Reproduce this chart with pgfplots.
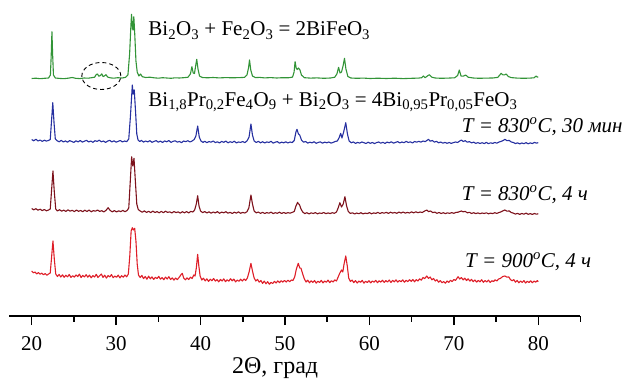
\documentclass[border=0pt]{standalone}
\usepackage{pgfplots}
\pgfplotsset{compat=1.18}
\usepackage{fontspec}
\setmainfont{Liberation Serif}
\definecolor{cgreen}{RGB}{50,148,55}
\definecolor{cblue}{RGB}{38,48,160}
\definecolor{cdred}{RGB}{125,18,28}
\definecolor{cred}{RGB}{222,30,40}
\newcommand{\fs}{\fontsize{21}{24}\selectfont}
\begin{document}
\begin{tikzpicture}
\useasboundingbox (-9.3pt,-65pt) rectangle (616.7pt,316pt);
\begin{axis}[
  at={(0pt,0pt)}, anchor=south west,
  scale only axis, width=571.17pt, height=316pt,
  xmin=17.35, xmax=85, ymin=0, ymax=316,
  axis x line*=bottom, axis y line=none,
  x axis line style={line width=1.8pt},
  xtick={20,30,...,80}, minor xtick={25,35,...,85},
  tick align=outside, major tick length=9pt, minor tick length=5.5pt,
  every tick/.style={black, line width=1.5pt},
  xticklabel style={font=\fs, inner sep=0pt, anchor=north, yshift=-11pt},
  /pgf/number format/assume math mode=true,
  clip=false,
  every axis plot/.append style={line width=1.1pt, line join=round},
]
% green
\addplot[cgreen] coordinates {(20,237.5)(20.5,237.8)(21,237.3)(21.5,237.7)(22,238)(22.22,241)(22.32,262)(22.4,284.3)(22.48,262)(22.58,241)(22.8,238)(23.3,237.6)(23.8,237.3)(24.3,237.8)(24.8,238.5)(25.2,237.7)(25.7,237.4)(26.2,238)(26.7,237.8)(27.1,238.3)(27.45,238.8)(27.65,241.5)(27.8,242)(27.95,239.8)(28.15,240.5)(28.3,242.2)(28.45,239.5)(28.6,240)(28.8,241.3)(29.0,239)(29.3,238.2)(29.7,237.8)(30.2,238.3)(30.7,238)(31.1,238.6)(31.4,241)(31.6,262)(31.75,290)(31.83,301.7)(31.93,288)(32.0,286)(32.1,299.3)(32.22,280)(32.35,255)(32.5,244)(32.7,240)(32.9,242)(33.1,239.3)(33.5,238.5)(34,238.8)(34.5,238.2)(35,237.8)(35.5,238.3)(36,238)(36.5,237.7)(37,238.2)(37.5,238)(38,238.3)(38.5,238.7)(38.8,242)(38.98,249.3)(39.13,243)(39.28,242.5)(39.42,250)(39.55,256.7)(39.7,247)(39.88,240)(40.2,238.5)(40.8,238.2)(41.5,238.5)(42.2,238.1)(43,238.4)(43.8,238.2)(44.6,238.4)(45.2,238.6)(45.5,241)(45.68,248)(45.8,256)(45.95,246)(46.15,240)(46.5,238.4)(47,238.6)(47.6,238.1)(48.3,238.4)(49,238)(49.7,238.3)(50.4,238.2)(50.9,238.9)(51.08,244)(51.2,254.3)(51.33,248)(51.45,246.5)(51.6,248)(51.78,246)(51.95,241)(52.3,238.3)(53,237.9)(53.8,238.1)(54.6,237.7)(55.4,238)(55.9,238.8)(56.15,242)(56.35,248.7)(56.52,243)(56.7,244)(56.88,250)(57.05,257.7)(57.22,247)(57.45,239.5)(57.8,238)(58.5,237.7)(59.3,237.9)(60.1,237.5)(61,237.8)(62,237.5)(63,237.8)(64,237.4)(65,237.7)(65.8,237.9)(66.2,238.3)(66.4,240)(66.6,238.3)(66.9,240.2)(67.1,241.3)(67.4,238.8)(67.8,238)(68.5,237.7)(69.3,237.9)(70.1,238.2)(70.45,240.5)(70.65,246)(70.85,240)(71.1,239.8)(71.4,241)(71.7,238.8)(72.3,238)(73,237.7)(73.8,237.9)(74.6,238)(75.2,238.6)(75.45,241)(75.6,242.7)(75.8,241.2)(76,241.1)(76.2,242)(76.45,239.5)(76.8,238.4)(77.5,237.9)(78.3,237.7)(79,237.9)(79.5,238.2)(79.75,240)(79.9,238.8)(80,239.2)};
% blue
\addplot[cblue] coordinates {(20.0,176.5)(20.25,175.2)(20.5,176.8)(20.75,175.0)(21.0,176.0)(21.25,174.6)(21.5,175.8)(21.75,174.9)(22.0,175.6)(22.2,176.5)(22.35,195)(22.5,213.3)(22.65,193)(22.8,177)(23.0,175.3)(23.25,174.2)(23.5,175.6)(23.75,174.0)(24.0,175.1)(24.25,173.8)(24.5,175.4)(24.75,174.5)(25.0,173.6)(25.25,175.2)(25.5,174.1)(25.75,175.5)(26.0,173.9)(26.25,174.8)(26.5,175.7)(26.75,174.0)(27.0,175.0)(27.25,173.7)(27.5,175.3)(27.75,174.6)(28.0,175.8)(28.25,174.2)(28.5,175.0)(28.75,173.6)(29.0,174.9)(29.25,175.6)(29.5,174.1)(29.75,175.2)(30.0,173.8)(30.25,174.7)(30.5,175.5)(30.75,174.0)(31.0,175.0)(31.25,174.3)(31.5,177)(31.7,200)(31.92,231)(32.02,222)(32.15,226)(32.3,205)(32.45,182)(32.6,176)(32.8,174.5)(33.0,175.6)(33.25,173.9)(33.5,175.0)(33.75,174.1)(34.0,175.3)(34.25,173.7)(34.5,174.6)(34.75,175.4)(35.0,173.8)(35.25,174.9)(35.5,173.5)(35.75,175.1)(36.0,174.2)(36.25,175.5)(36.5,173.6)(36.75,174.7)(37.0,175.2)(37.25,173.9)(37.5,174.5)(37.75,173.4)(38.0,175.0)(38.25,174.3)(38.5,175.3)(38.75,174.0)(39.0,175.0)(39.25,176.5)(39.45,180)(39.66,190)(39.85,179)(40.05,175)(40.3,173.6)(40.5,174.8)(40.75,173.3)(41.0,174.5)(41.25,173.8)(41.5,175.0)(41.75,173.4)(42.0,174.2)(42.25,173.0)(42.5,174.6)(42.75,173.7)(43.0,174.9)(43.25,173.2)(43.5,174.3)(43.75,173.5)(44.0,174.8)(44.25,173.1)(44.5,174.0)(44.75,173.6)(45.0,174.5)(45.25,173.4)(45.5,175.0)(45.75,179)(45.97,192)(46.15,181)(46.35,175)(46.6,173.5)(46.85,174.6)(47.1,173.2)(47.35,174.3)(47.6,173.0)(47.85,174.1)(48.1,173.5)(48.35,174.7)(48.6,172.9)(48.85,173.8)(49.1,174.4)(49.35,172.8)(49.6,173.9)(49.85,173.1)(50.1,174.2)(50.35,173.0)(50.6,174.0)(50.85,173.4)(51.1,175.5)(51.3,184)(51.42,186.7)(51.6,182)(51.75,181)(51.95,176)(52.2,173.8)(52.45,174.5)(52.7,172.9)(52.95,173.8)(53.2,173.1)(53.45,174.3)(53.7,172.7)(53.95,173.6)(54.2,174.1)(54.45,172.8)(54.7,173.9)(54.95,173.2)(55.2,174.0)(55.45,172.9)(55.7,173.6)(55.95,174.5)(56.2,175)(56.4,178)(56.6,182.7)(56.75,178)(56.95,184)(57.2,193.3)(57.4,182)(57.6,175)(57.85,173.2)(58.1,174.1)(58.35,172.6)(58.6,173.6)(58.85,172.9)(59.1,174.0)(59.35,173.3)(59.6,172.5)(59.85,173.8)(60.1,172.7)(60.35,173.5)(60.6,172.4)(60.85,173.4)(61.1,174.0)(61.35,172.8)(61.6,173.7)(61.85,172.6)(62.1,173.9)(62.35,173.2)(62.6,174.2)(62.85,172.9)(63.1,173.6)(63.35,174.4)(63.6,173.1)(63.85,174.0)(64.1,173.3)(64.35,174.6)(64.6,173.5)(64.85,174.2)(65.1,173.0)(65.35,174.5)(65.6,173.8)(65.85,174.7)(66.1,173.9)(66.35,175.0)(66.6,174.3)(66.85,175.8)(67.0,176.7)(67.2,174.8)(67.45,175.5)(67.7,173.9)(67.95,174.6)(68.2,173.2)(68.45,174.0)(68.7,172.8)(68.95,173.6)(69.2,172.7)(69.45,173.5)(69.7,172.6)(69.95,173.4)(70.2,174.0)(70.45,173.5)(70.7,175.0)(70.9,176)(71.1,174.5)(71.35,175.3)(71.6,173.8)(71.85,174.4)(72.1,173.1)(72.35,173.9)(72.6,172.6)(72.85,173.4)(73.1,172.5)(73.35,173.3)(73.6,172.4)(73.85,173.6)(74.1,172.3)(74.35,173.2)(74.6,172.6)(74.85,173.5)(75.1,172.8)(75.35,174.0)(75.6,174.6)(75.85,175.5)(76.05,176.7)(76.3,175.3)(76.55,175.6)(76.8,174.0)(77.05,173.5)(77.3,172.4)(77.55,173.2)(77.8,172.1)(78.05,173.0)(78.3,172.3)(78.55,173.4)(78.8,172.2)(79.05,173.1)(79.3,172.5)(79.55,173.6)(79.8,172.8)(80.0,173.4)};
% dark red
\addplot[cdred] coordinates {(20.0,107.5)(20.25,106.2)(20.5,107.3)(20.75,105.8)(21.0,106.8)(21.25,105.4)(21.5,106.5)(21.75,105.2)(22.0,106.0)(22.2,107)(22.35,125)(22.52,145)(22.68,124)(22.85,107)(23.05,105.0)(23.3,106.3)(23.55,104.8)(23.8,105.9)(24.05,104.6)(24.3,106.1)(24.55,104.9)(24.8,105.7)(25.05,104.4)(25.3,106.0)(25.55,104.7)(25.8,105.5)(26.05,104.3)(26.3,105.8)(26.55,104.5)(26.8,105.9)(27.05,104.2)(27.3,105.4)(27.55,104.8)(27.8,106.0)(28.05,104.6)(28.3,105.3)(28.55,104.1)(28.8,105.6)(29.05,108.3)(29.3,105.5)(29.55,104.2)(29.8,105.4)(30.05,104.0)(30.3,105.2)(30.55,104.4)(30.8,105.6)(31.05,104.3)(31.3,105.5)(31.5,108)(31.68,135)(31.84,159.3)(31.98,150)(32.12,157.7)(32.28,135)(32.45,112)(32.62,106.5)(32.85,105.0)(33.1,103.8)(33.35,105.1)(33.6,103.6)(33.85,104.7)(34.1,103.4)(34.35,104.9)(34.6,103.5)(34.85,104.4)(35.1,103.2)(35.35,104.6)(35.6,103.3)(35.85,104.8)(36.1,103.6)(36.35,104.2)(36.6,103.0)(36.85,104.5)(37.1,103.4)(37.35,104.1)(37.6,102.9)(37.85,104.3)(38.1,103.2)(38.35,104.4)(38.6,103.1)(38.85,104.6)(39.1,104.0)(39.3,106)(39.5,112)(39.66,120.3)(39.82,110)(40.0,105)(40.25,103.4)(40.5,104.5)(40.75,103.0)(41.0,104.2)(41.25,102.8)(41.5,104.0)(41.75,103.1)(42.0,104.4)(42.25,102.7)(42.5,103.9)(42.75,103.2)(43.0,104.3)(43.25,102.8)(43.5,103.7)(43.75,102.5)(44.0,103.8)(44.25,102.9)(44.5,104.1)(44.75,102.7)(45.0,103.6)(45.25,103.0)(45.5,104.3)(45.72,108)(45.97,121)(46.15,112)(46.35,105)(46.6,103.1)(46.85,104.0)(47.1,102.6)(47.35,103.7)(47.6,102.5)(47.85,103.4)(48.1,102.8)(48.35,103.9)(48.6,102.4)(48.85,103.3)(49.1,102.7)(49.35,103.8)(49.6,102.5)(49.85,103.5)(50.1,102.6)(50.35,103.4)(50.6,102.8)(50.85,103.6)(51.1,104.5)(51.3,110)(51.5,113.7)(51.6,112)(51.7,111.7)(51.9,107)(52.1,104)(52.35,102.4)(52.6,103.3)(52.85,102.1)(53.1,103.2)(53.35,102.5)(53.6,103.4)(53.85,102.2)(54.1,103.0)(54.35,102.6)(54.6,103.5)(54.85,102.3)(55.1,103.1)(55.35,102.4)(55.6,103.3)(55.85,102.7)(56.1,104)(56.3,108)(56.5,113.3)(56.7,109)(56.9,112)(57.1,119.3)(57.3,110)(57.5,104.5)(57.75,102.6)(58.0,103.2)(58.25,102.0)(58.5,103.0)(58.75,102.3)(59.0,103.3)(59.25,102.1)(59.5,102.9)(59.75,102.4)(60.0,103.4)(60.25,102.2)(60.5,103.1)(60.75,102.6)(61.0,103.6)(61.25,102.5)(61.5,103.4)(61.75,102.8)(62.0,103.7)(62.25,102.6)(62.5,103.8)(62.75,102.9)(63.0,103.5)(63.25,102.7)(63.5,103.9)(63.75,103.0)(64.0,104.0)(64.25,102.9)(64.5,103.6)(64.75,103.0)(65.0,104.1)(65.25,103.1)(65.5,104.2)(65.75,103.3)(66.0,104.0)(66.25,103.5)(66.55,105)(66.8,106)(67.0,104.4)(67.25,105.0)(67.5,103.4)(67.75,103.9)(68.0,102.7)(68.25,103.5)(68.5,102.5)(68.75,103.3)(69.0,102.4)(69.25,103.2)(69.5,102.6)(69.75,103.4)(70.0,102.7)(70.25,103.6)(70.5,103.8)(70.7,104.5)(70.9,105)(71.1,104.2)(71.35,104.6)(71.6,103.2)(71.85,103.7)(72.1,102.5)(72.35,103.3)(72.6,102.4)(72.85,103.1)(73.1,102.3)(73.35,103.0)(73.6,102.5)(73.85,103.2)(74.1,102.2)(74.35,102.9)(74.6,102.4)(74.85,103.3)(75.1,102.6)(75.35,103.5)(75.6,104.2)(75.85,105.3)(76.05,106)(76.3,104.8)(76.55,105.1)(76.8,103.5)(77.05,102.9)(77.3,101.9)(77.55,102.7)(77.8,101.6)(78.05,102.5)(78.3,101.8)(78.55,102.9)(78.8,101.7)(79.05,102.4)(79.3,101.6)(79.55,102.5)(79.8,101.8)(80.0,102.3)};
% red
\addplot[cred] coordinates {(20.0,45)(20.2,43.2)(20.4,44.0)(20.6,42.1)(20.8,43.4)(21.0,41.8)(21.2,42.9)(21.4,41.2)(21.6,42.5)(21.8,40.8)(22.0,42.0)(22.2,43)(22.35,58)(22.52,75)(22.68,57)(22.85,42)(23.05,39.5)(23.25,41.6)(23.45,39.0)(23.65,41.2)(23.85,38.7)(24.05,40.8)(24.25,39.2)(24.45,41.5)(24.65,38.6)(24.85,40.3)(25.05,38.9)(25.25,41.0)(25.45,39.4)(25.65,41.8)(25.85,38.4)(26.05,40.6)(26.25,39.1)(26.45,41.3)(26.65,38.8)(26.85,40.9)(27.05,38.2)(27.25,40.4)(27.45,39.0)(27.65,41.7)(27.85,38.5)(28.05,40.2)(28.25,42.0)(28.45,38.6)(28.65,40.8)(28.85,37.9)(29.05,40.5)(29.25,39.1)(29.45,41.4)(29.65,38.3)(29.85,40.0)(30.05,38.7)(30.25,40.9)(30.45,38.1)(30.65,40.3)(30.85,38.8)(31.05,41.0)(31.25,39.2)(31.45,42)(31.62,60)(31.78,85)(31.92,88.3)(32.05,86)(32.2,87.7)(32.35,75)(32.5,52)(32.65,41)(32.85,38.5)(33.05,40.6)(33.25,37.4)(33.45,39.5)(33.65,36.8)(33.85,39.8)(34.05,37.2)(34.25,39.1)(34.45,36.6)(34.65,38.7)(34.85,37.5)(35.05,39.6)(35.25,36.9)(35.45,38.4)(35.65,36.3)(35.85,38.9)(36.05,37.0)(36.25,39.3)(36.45,36.5)(36.65,38.2)(36.85,35.9)(37.05,38.0)(37.25,36.4)(37.5,39.0)(37.7,41.5)(37.84,42.7)(38.0,38)(38.2,36.2)(38.4,38.1)(38.6,36.5)(38.8,38.8)(39.0,37.5)(39.2,41)(39.35,40)(39.5,48)(39.66,61.7)(39.8,50)(39.95,40)(40.15,36.0)(40.35,37.8)(40.55,35.1)(40.75,37.2)(40.95,34.6)(41.15,36.8)(41.35,35.3)(41.55,37.5)(41.75,34.9)(41.95,36.4)(42.15,34.2)(42.35,36.6)(42.55,35.0)(42.75,37.1)(42.95,34.4)(43.15,36.2)(43.35,34.8)(43.55,37.3)(43.75,35.2)(43.95,36.9)(44.15,34.1)(44.35,36.0)(44.55,34.7)(44.75,36.8)(44.95,35.0)(45.15,37.0)(45.35,35.5)(45.55,38)(45.75,44)(45.97,52.7)(46.15,45)(46.35,38)(46.55,35.0)(46.75,36.6)(46.95,33.8)(47.15,35.5)(47.35,32.6)(47.55,34.9)(47.75,32.2)(47.95,34.3)(48.15,31.8)(48.35,33.6)(48.55,32.5)(48.75,34.6)(48.95,33.0)(49.15,35.1)(49.35,33.4)(49.55,35.3)(49.75,33.9)(49.95,35.6)(50.15,34.0)(50.35,35.8)(50.55,34.3)(50.75,36.0)(50.95,35.5)(51.15,39)(51.35,47)(51.58,52.7)(51.75,48)(51.9,47.7)(52.1,42)(52.3,37)(52.5,34.0)(52.7,35.8)(52.9,33.2)(53.1,35.2)(53.3,33.6)(53.5,35.5)(53.7,32.9)(53.9,34.8)(54.1,33.5)(54.3,35.6)(54.5,33.1)(54.7,35.0)(54.9,33.8)(55.1,35.9)(55.3,33.4)(55.5,35.3)(55.7,34.0)(55.9,36.1)(56.1,35)(56.3,39)(56.5,43)(56.7,46)(56.85,44)(57.0,52)(57.2,60)(57.38,50)(57.55,38)(57.75,34.5)(57.95,36.0)(58.15,33.4)(58.35,35.4)(58.55,33.0)(58.75,34.9)(58.95,33.7)(59.15,35.6)(59.35,32.9)(59.55,34.7)(59.75,33.5)(59.95,35.3)(60.15,33.1)(60.35,35.0)(60.55,33.8)(60.75,35.7)(60.95,33.3)(61.15,35.2)(61.35,33.9)(61.55,35.8)(61.75,33.6)(61.95,35.4)(62.15,34.0)(62.35,36.0)(62.55,33.5)(62.75,35.6)(62.95,34.1)(63.15,36.2)(63.35,33.9)(63.55,35.5)(63.75,34.3)(63.95,36.1)(64.15,33.8)(64.35,35.7)(64.55,34.4)(64.75,36.3)(64.95,34.6)(65.15,36.5)(65.35,34.2)(65.55,36.4)(65.75,35.0)(65.95,37.2)(66.15,35.8)(66.35,38.5)(66.55,37.4)(66.8,40)(67.0,37.6)(67.2,39.0)(67.4,36.2)(67.6,37.5)(67.8,35.0)(68.0,36.3)(68.2,33.8)(68.4,35.4)(68.6,33.2)(68.8,34.5)(69.0,32.8)(69.2,35.0)(69.4,33.6)(69.6,35.7)(69.8,34.4)(70.0,36.5)(70.2,35.6)(70.5,39.3)(70.7,37.0)(70.9,38.4)(71.1,36.1)(71.3,37.8)(71.5,35.5)(71.7,37.2)(71.9,34.9)(72.1,36.6)(72.3,34.3)(72.5,36.0)(72.7,33.9)(72.9,35.6)(73.1,34.2)(73.3,36.3)(73.5,33.7)(73.7,35.4)(73.9,34.0)(74.1,35.9)(74.3,33.6)(74.5,35.3)(74.7,34.5)(74.9,36.2)(75.1,35.0)(75.3,37.0)(75.5,37.5)(75.8,39.5)(76.05,40)(76.3,38.8)(76.5,39.2)(76.7,36.5)(76.9,35.2)(77.1,36.4)(77.3,33.8)(77.5,35.5)(77.7,33.2)(77.9,35.0)(78.1,33.6)(78.3,35.4)(78.5,33.0)(78.7,34.8)(78.9,33.5)(79.1,35.2)(79.3,33.3)(79.5,35.0)(79.7,33.8)(79.9,35.4)(80.0,34.3)};
% dashed ellipse
\draw[black, line width=0.9pt, dash pattern=on 4pt off 3pt] (axis cs:28.25,240) ellipse [x radius=19.5pt, y radius=13.5pt];
% annotations
\node[anchor=base west, inner sep=0pt, font=\fs] at (axis cs:33.81,280) {Bi\textsubscript{2}O\textsubscript{3} + Fe\textsubscript{2}O\textsubscript{3} = 2BiFeO\textsubscript{3}};
\node[anchor=base west, inner sep=0pt, font=\fs] at (axis cs:33.81,210) {Bi\textsubscript{1,8}Pr\textsubscript{0,2}Fe\textsubscript{4}O\textsubscript{9} + Bi\textsubscript{2}O\textsubscript{3} = 4Bi\textsubscript{0,95}Pr\textsubscript{0,05}FeO\textsubscript{3}};
\node[anchor=base west, inner sep=0pt, font=\fs\itshape] at (axis cs:70.93,184) {T = 830\textsuperscript{o}C, 30 мин};
\node[anchor=base west, inner sep=0pt, font=\fs\itshape] at (axis cs:70.93,116) {T = 830\textsuperscript{o}C, 4 ч};
\node[anchor=base west, inner sep=0pt, font=\fs\itshape] at (axis cs:71.32,48.7) {T = 900\textsuperscript{o}C, 4 ч};
\node[anchor=base west, inner sep=0pt, font=\fontsize{24}{26}\selectfont] at (axis cs:43.72,-57.5) {2Θ, град};
\end{axis}
\end{tikzpicture}
\end{document}
